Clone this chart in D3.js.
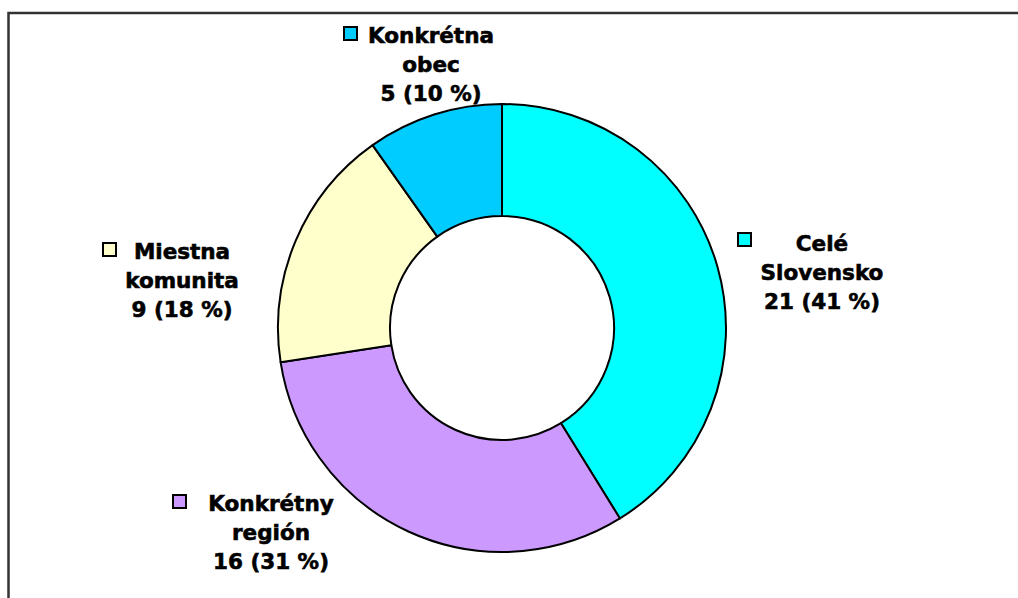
<!DOCTYPE html>
<html>
<head>
<meta charset="utf-8">
<script src="https://cdn.jsdelivr.net/npm/d3@7"></script>
<style>
body { margin: 0; background: #fff; }
text { font-family: Tahoma, "DejaVu Sans", Verdana, sans-serif; font-weight: bold; }
</style>
</head>
<body>
<div id="chart"></div>
<script>
// donut chart: Slovak survey answers

var categories = ["Celé Slovensko", "Konkrétny región", "Miestna komunita", "Konkrétna obec"];
var values = [21, 16, 9, 5];
var labelLines = [["Celé", "Slovensko"], ["Konkrétny", "región"], ["Miestna", "komunita"], ["Konkrétna", "obec"]];
var colors = ["#00ffff", "#cc99ff", "#ffffcc", "#00ccff"];

var width = 1018, height = 598;
var cx = 502, cy = 328, outerR = 224, innerR = 112;
var fontSize = 21.5, lineH = 29;

// label anchor (center x, first baseline y) and legend box offset
var labelPos = [
    {x: 822, y: 251, box: [738, 233]},
    {x: 271, y: 511, box: [173, 495]},
    {x: 182, y: 259, box: [103, 243]},
    {x: 431, y: 43, box: [344, 27]}
];

var svg = d3.select("#chart").append("svg")
    .attr("width", width)
    .attr("height", height);

// frame, cut by the window on the right and bottom
svg.append("path")
    .attr("d", "M8.5," + height + "V13H" + width)
    .attr("fill", "none")
    .attr("stroke", "#333")
    .attr("stroke-width", 2.5);

var total = d3.sum(values);
var pie = d3.pie().sort(null).value(function(d){return d;});
var arc = d3.arc().innerRadius(innerR).outerRadius(outerR);

var g = svg.append("g").attr("transform", "translate(" + cx + "," + cy + ")");
g.selectAll("path")
    .data(pie(values))
    .enter().append("path")
    .attr("d", arc)
    .attr("fill", function(d, i){return colors[i];})
    .attr("stroke", "#000")
    .attr("stroke-width", 2)
    .attr("stroke-linejoin", "round");

var labels = svg.selectAll("g.lbl")
    .data(values)
    .enter().append("g")
    .attr("class", "lbl");

labels.append("rect")
    .attr("x", function(d, i){return labelPos[i].box[0];})
    .attr("y", function(d, i){return labelPos[i].box[1];})
    .attr("width", 13)
    .attr("height", 13)
    .attr("fill", function(d, i){return colors[i];})
    .attr("stroke", "#000")
    .attr("stroke-width", 2);

labels.each(function(d, i) {
    var lines = labelLines[i].concat([d + " (" + Math.round(100 * d / total) + " %)"]);
    var t = d3.select(this).append("text")
	.attr("text-anchor", "middle")
	.attr("font-size", fontSize)
	.attr("fill", "#000")
	.attr("stroke", "#000")
	.attr("stroke-width", 0.6);
    lines.forEach(function(s, k) {
	t.append("tspan")
	    .attr("x", labelPos[i].x)
	    .attr("y", labelPos[i].y + k * lineH)
	    .text(s);
    });
});
</script>
</body>
</html>
